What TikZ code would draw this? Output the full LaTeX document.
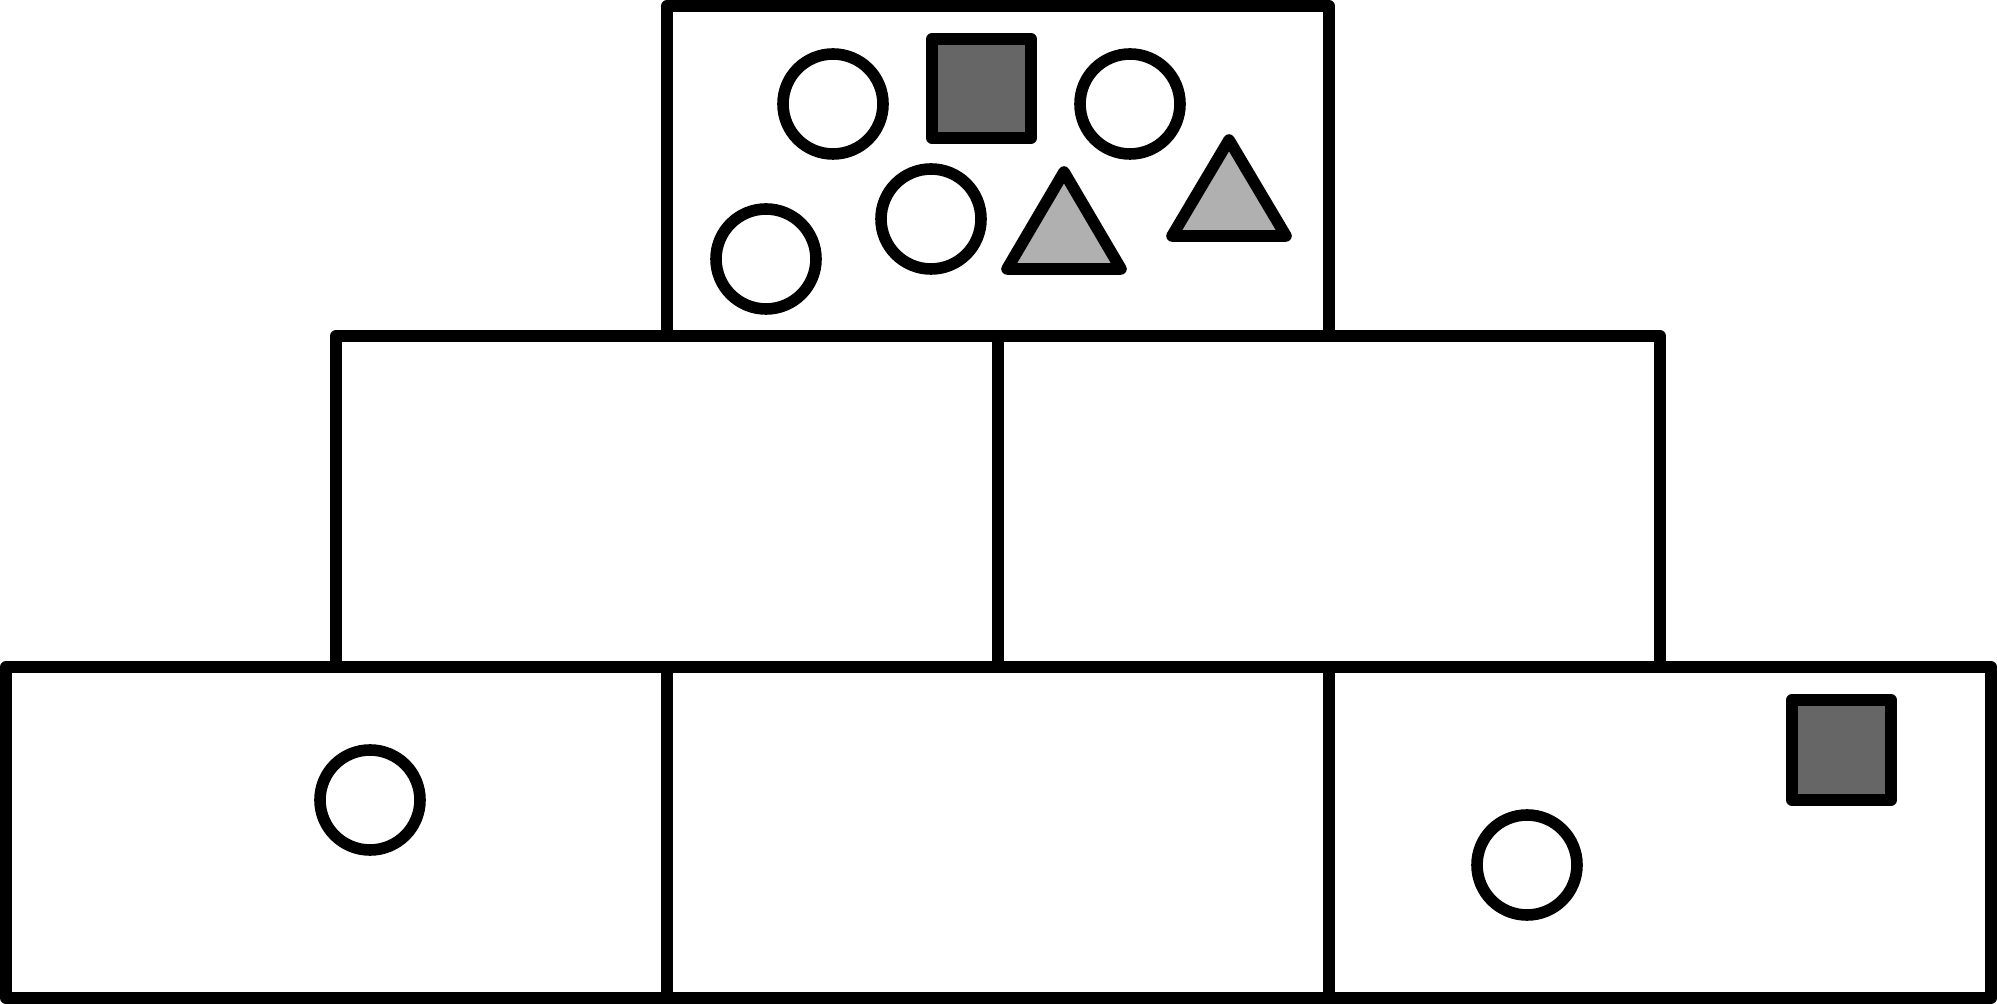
\documentclass[tikz,border=0pt]{standalone}
\usepackage{xcolor}
\usepackage{tikz}
\usetikzlibrary{arrows.meta}
\definecolor{blockdark}{HTML}{666666}
\definecolor{blocklight}{HTML}{B0B0B0}

\begin{document}
\begin{tikzpicture}[x=0.01cm, y=-0.01cm, line width=3.3pt, line join=round,
    brick/.style={draw=black},
    ball/.style={draw=black, fill=white},
    cube/.style={draw=black, fill=blockdark},
    wedge/.style={draw=black, fill=blocklight}]
    \useasboundingbox (0, 0) rectangle (1997, 1004);

    % ── BOTTOM ROW ────────────────────────────────────────────────────
    \draw[brick] (6, 667) rectangle (667, 998);
    \draw[brick] (667, 667) rectangle (1329, 998);
    \draw[brick] (1329, 667) rectangle (1991, 998);

    % ── MIDDLE ROW ────────────────────────────────────────────────────
    \draw[brick] (336, 336) rectangle (998, 667);
    \draw[brick] (998, 336) rectangle (1660, 667);

    % ── TOP ───────────────────────────────────────────────────────────
    \draw[brick] (667, 6) rectangle (1329, 336);

    % Items in the top box
    \draw[ball] (833, 104) circle (50);
    \draw[ball] (1130, 104) circle (50);
    \draw[ball] (766, 259) circle (50);
    \draw[ball] (931, 219) circle (50);
    \draw[cube] (932, 39) rectangle (1031, 138);
    \draw[wedge] (1064, 172) -- (1121, 269) -- (1007, 269) -- cycle;
    \draw[wedge] (1229, 140) -- (1286, 236) -- (1172, 236) -- cycle;

    % Items in the bottom boxes
    \draw[ball] (370, 800) circle (50);
    \draw[ball] (1527, 865) circle (50);
    \draw[cube] (1792, 700) rectangle (1891, 800);
\end{tikzpicture}
\end{document}
